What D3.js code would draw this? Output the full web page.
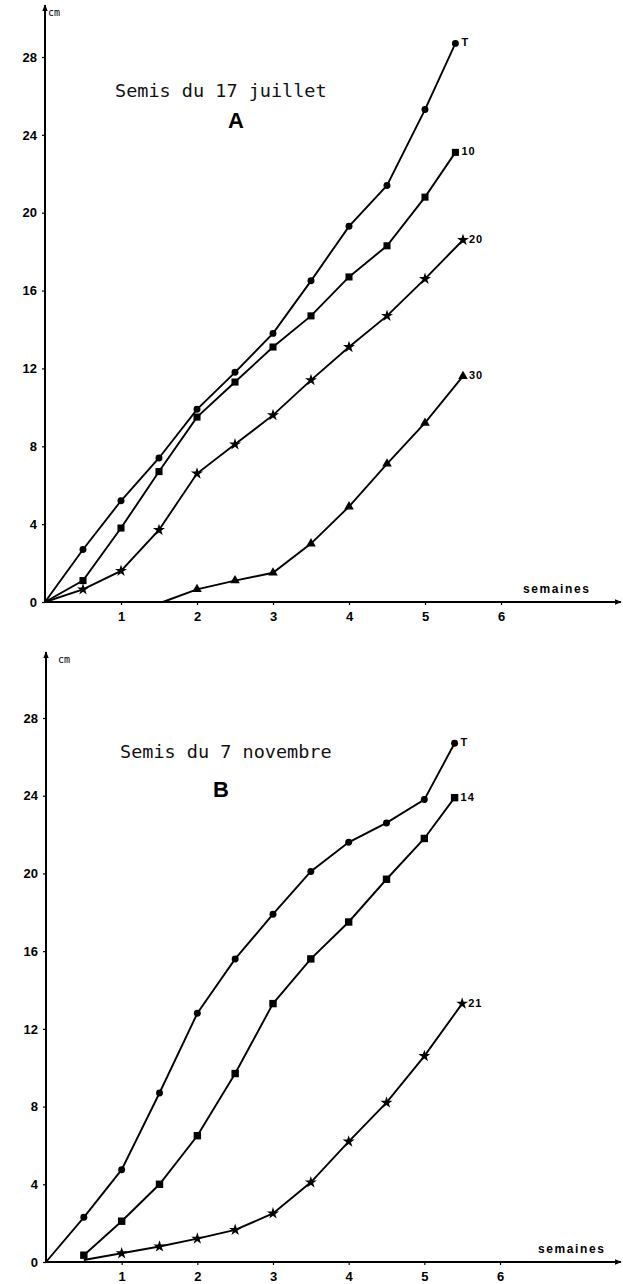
<!DOCTYPE html>
<html>
<head>
<meta charset="utf-8">
<title>Semis</title>
<script src="https://cdn.jsdelivr.net/npm/d3@7"></script>
<style>
  body { margin: 0; background: #fff; }
  svg { display: block; }
</style>
</head>
<body>
<script>
// ---- data ----
var yTicks = [0, 4, 8, 12, 16, 20, 24, 28];
var xTicks = [1, 2, 3, 4, 5, 6];

// Semis du 17 juillet (A)
var weeksA = [0, 0.5, 1, 1.5, 2, 2.5, 3, 3.5, 4, 4.5, 5, 5.4];
var weeksA2 = [0, 0.5, 1, 1.5, 2, 2.5, 3, 3.5, 4, 4.5, 5, 5.5];
var weeksA30 = [1.55, 2, 2.5, 3, 3.5, 4, 4.5, 5, 5.5];
var a_T = [0, 2.7, 5.2, 7.4, 9.9, 11.8, 13.8, 16.5, 19.3, 21.4, 25.3, 28.7];
var a_10 = [0, 1.1, 3.8, 6.7, 9.5, 11.3, 13.1, 14.7, 16.7, 18.3, 20.8, 23.1];
var a_20 = [0, 0.65, 1.6, 3.7, 6.6, 8.1, 9.6, 11.4, 13.1, 14.7, 16.6, 18.6];
var a_30 = [0, 0.65, 1.1, 1.5, 3.0, 4.9, 7.1, 9.2, 11.6];

// Semis du 7 novembre (B)
var weeksB = [0, 0.5, 1, 1.5, 2, 2.5, 3, 3.5, 4, 4.5, 5, 5.4];
var weeksB14 = [0.5, 1, 1.5, 2, 2.5, 3, 3.5, 4, 4.5, 5, 5.4];
var weeksB21 = [0.5, 1, 1.5, 2, 2.5, 3, 3.5, 4, 4.5, 5, 5.5];
var b_T = [0, 2.3, 4.75, 8.7, 12.8, 15.6, 17.9, 20.1, 21.6, 22.6, 23.8, 26.7];
var b_14 = [0.35, 2.1, 4.0, 6.5, 9.7, 13.3, 15.6, 17.5, 19.7, 21.8, 23.9];
var b_21 = [0.1, 0.45, 0.8, 1.2, 1.65, 2.5, 4.1, 6.2, 8.2, 10.6, 13.3];

var width = 623, height = 1284;
var svg = d3.select("body").append("svg")
    .attr("width", width).attr("height", height);

svg.append("defs").append("marker")
    .attr("id", "arrow")
    .attr("viewBox", "0 0 10 10")
    .attr("refX", 9).attr("refY", 5)
    .attr("markerWidth", 7).attr("markerHeight", 7)
    .attr("markerUnits", "userSpaceOnUse")
    .attr("orient", "auto")
  .append("path")
    .attr("d", "M0,1L10,5L0,9Z")
    .attr("fill", "#000");

function drawPanel(opt) {
  var x = d3.scaleLinear().domain([0, 6]).range([opt.x0, opt.x6]);
  var y = d3.scaleLinear().domain([0, 28]).range([opt.y0, opt.y28]);
  var g = svg.append("g");

  // axes
  var yAxis = g.append("g")
      .attr("transform", "translate(" + x(0) + ",0)")
      .call(d3.axisLeft(y).tickValues(yTicks).tickFormat(d3.format("d"))
        .tickSize(3).tickPadding(5));
  var xAxis = g.append("g")
      .attr("transform", "translate(0," + y(0) + ")")
      .call(d3.axisBottom(x).tickValues(xTicks).tickFormat(d3.format("d"))
        .tickSize(3).tickPadding(7));
  [yAxis, xAxis].forEach(function(a) {
    a.select(".domain").remove();
    a.selectAll("line").attr("stroke", "#000").attr("stroke-width", 1.2);
    a.selectAll("text")
      .attr("fill", "#000")
      .style("font-family", "'Liberation Sans', Arial, sans-serif")
      .style("font-weight", "bold")
      .style("font-size", "13px");
  });

  g.append("line")
      .attr("x1", x(0)).attr("x2", x(0))
      .attr("y1", y(0)).attr("y2", opt.yTop)
      .attr("stroke", "#000").attr("stroke-width", 2)
      .attr("marker-end", "url(#arrow)");
  g.append("line")
      .attr("x1", x(0)).attr("x2", 621)
      .attr("y1", y(0)).attr("y2", y(0))
      .attr("stroke", "#000").attr("stroke-width", 2)
      .attr("marker-end", "url(#arrow)");

  g.append("text")
      .attr("x", x(0) + opt.cmDx).attr("y", opt.yTop + 11)
      .attr("fill", "#000")
      .style("font-family", "'DejaVu Sans Mono', monospace")
      .style("font-size", "10px")
      .text("cm");

  g.append("text")
      .attr("x", opt.semX).attr("y", y(0) - 9)
      .attr("fill", "#000")
      .style("font-family", "'Liberation Sans', Arial, sans-serif")
      .style("font-weight", "bold")
      .style("font-size", "12px")
      .style("letter-spacing", "1.6px")
      .text("semaines");

  // titles
  g.append("text")
      .attr("x", opt.titleX).attr("y", opt.titleY)
      .style("font-family", "'DejaVu Sans Mono', monospace")
      .style("font-size", "18.5px")
      .attr("fill", "#111")
      .text(opt.title);
  g.append("text")
      .attr("x", opt.letterX).attr("y", opt.letterY)
      .attr("text-anchor", "middle")
      .style("font-family", "'Liberation Sans', Arial, sans-serif")
      .style("font-weight", "bold")
      .style("font-size", "22px")
      .text(opt.letter);

  var line = d3.line()
      .x(function(d) { return x(d[0]); })
      .y(function(d) { return y(d[1]); });

  opt.series.forEach(function(s) {
    var pts = d3.zip(s.weeks, s.values);
    g.append("path")
        .attr("d", line(pts))
        .attr("fill", "none")
        .attr("stroke", "#000")
        .attr("stroke-width", 1.9);

    var sym = d3.symbol().type(s.symbol).size(s.size);
    g.selectAll(null)
        .data(pts.slice(s.markFrom))
        .enter().append("path")
        .attr("d", sym)
        .attr("transform", function(d) {
          return "translate(" + x(d[0]) + "," + y(d[1]) + ")";
        })
        .attr("fill", "#000");

    var last = pts[pts.length - 1];
    g.append("text")
        .attr("x", x(last[0]) + 6)
        .attr("y", y(last[1]) + 3)
        .attr("fill", "#000")
        .style("font-family", "'Liberation Sans', Arial, sans-serif")
        .style("font-weight", "bold")
        .style("font-size", "11px")
        .style("letter-spacing", "1px")
        .text(s.name);
  });
}

drawPanel({
  x0: 45, x6: 501, y0: 602, y28: 57, yTop: 5, cmDx: 3, semX: 523,
  title: "Semis du 17 juillet", titleX: 115, titleY: 97,
  letter: "A", letterX: 236, letterY: 128,
  series: [
    { name: "T", weeks: weeksA, values: a_T, symbol: d3.symbolCircle, size: 38, markFrom: 1 },
    { name: "10", weeks: weeksA, values: a_10, symbol: d3.symbolSquare, size: 50, markFrom: 1 },
    { name: "20", weeks: weeksA2, values: a_20, symbol: d3.symbolStar, size: 45, markFrom: 1 },
    { name: "30", weeks: weeksA30, values: a_30, symbol: d3.symbolTriangle, size: 40, markFrom: 1 }
  ]
});

drawPanel({
  x0: 46, x6: 500, y0: 1262, y28: 718, yTop: 652, cmDx: 12, semX: 538,
  title: "Semis du 7 novembre", titleX: 120, titleY: 758,
  letter: "B", letterX: 221, letterY: 797,
  series: [
    { name: "T", weeks: weeksB, values: b_T, symbol: d3.symbolCircle, size: 38, markFrom: 1 },
    { name: "14", weeks: weeksB14, values: b_14, symbol: d3.symbolSquare, size: 55, markFrom: 0 },
    { name: "21", weeks: weeksB21, values: b_21, symbol: d3.symbolStar, size: 45, markFrom: 1 }
  ]
});
</script>
</body>
</html>
